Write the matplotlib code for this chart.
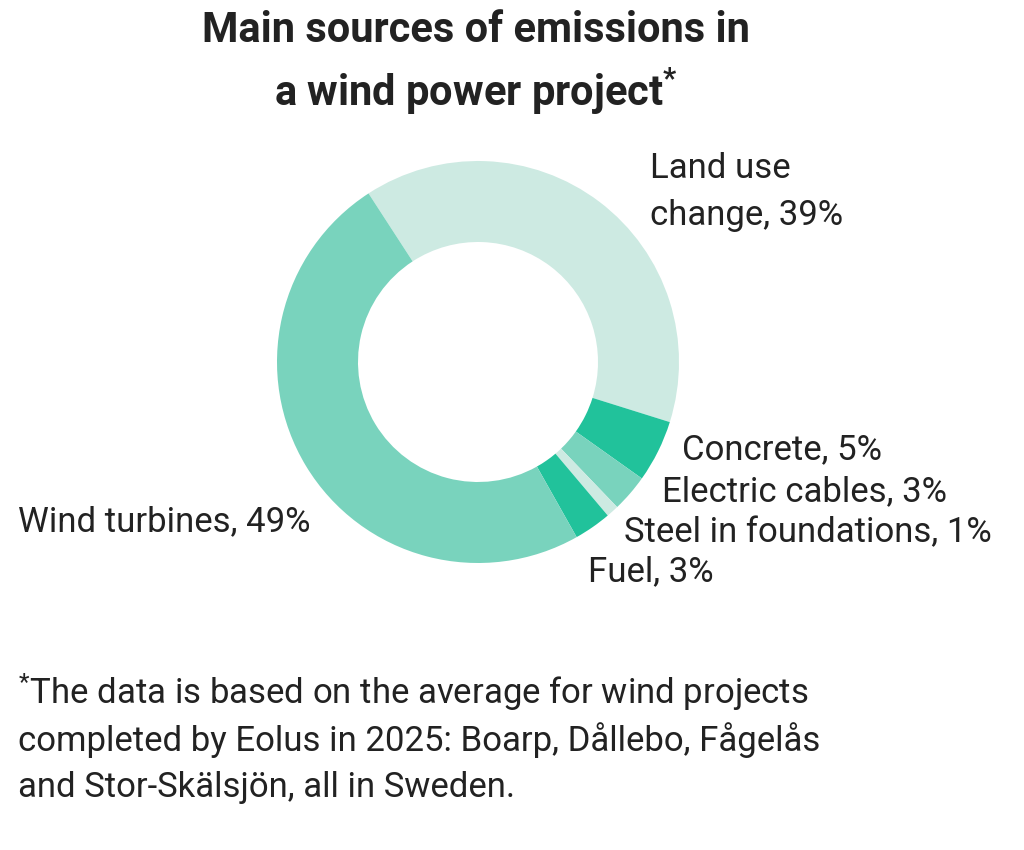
import matplotlib.pyplot as plt

plt.rcParams['font.family'] = ['Roboto', 'DejaVu Sans']
plt.rcParams['mathtext.fontset'] = 'custom'
plt.rcParams['mathtext.rm'] = 'Roboto'
plt.rcParams['mathtext.bf'] = 'Roboto:bold'
plt.rcParams['mathtext.default'] = 'regular'

labels = ["Land use\nchange, 39%", "Concrete, 5%", "Electric cables, 3%",
          "Steel in foundations, 1%", "Fuel, 3%", "Wind turbines, 49%"]
values = [39, 5, 3, 1, 3, 49]
colors = ["#cdeae2", "#21c29b", "#79d3bd", "#cdeae2", "#21c29b", "#79d3bd"]

# label anchor points in pixel coords (left x, center y from top)
label_pos = [(650, 192), (682, 450), (662, 492), (624, 533), (588, 572), (18, 522)]

W, H = 1024, 850
fig = plt.figure(figsize=(W / 100, H / 100), dpi=100)
ax = fig.add_axes([0, 0, 1, 1])

cx, cy, r = 478, H - 362, 201
ax.pie(values, colors=colors, startangle=123, counterclock=False,
       center=(cx, cy), radius=r, frame=True,
       wedgeprops=dict(width=81, linewidth=0))
ax.set_xlim(0, W)
ax.set_ylim(0, H)
ax.set_aspect('equal')
ax.axis('off')

txt = "#222222"
for lab, (x, y) in zip(labels, label_pos):
    ax.text(x, H - y, lab, fontsize=25, color=txt, ha='left', va='center',
            linespacing=1.55)

# title
ax.text(476, H - 30, "Main sources of emissions in", fontsize=30, fontweight='bold',
        color=txt, ha='center', va='center')
ax.text(476, H - 92, r"a wind power project$^{*}$", fontsize=30, fontweight='bold',
        color=txt, ha='center', va='center')

foot = ["$^{*}$The data is based on the average for wind projects",
        "completed by Eolus in 2025: Boarp, Dållebo, Fågelås",
        "and Stor-Skälsjön, all in Sweden."]
for i, line in enumerate(foot):
    ax.text(18, H - (692 + i * 48), line, fontsize=25, color=txt,
            ha='left', va='center')

fig.savefig("out.png", dpi=100)
